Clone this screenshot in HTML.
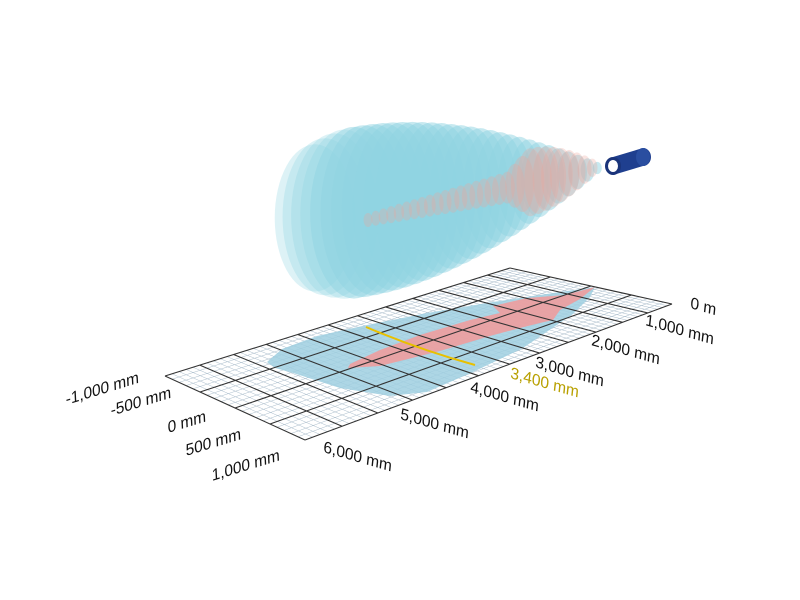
<!DOCTYPE html>
<html><head><meta charset="utf-8"><style>
html,body{margin:0;padding:0;background:#fff;}
svg{display:block}
text{font-family:"Liberation Sans",sans-serif;font-size:16px;fill:#111;}
</style></head><body>
<svg id="s" width="800" height="600" viewBox="0 0 800 600" xmlns="http://www.w3.org/2000/svg">
<g id="floor"></g>
<g id="beam"></g>
<g id="labels">
<text transform="translate(66,405) rotate(-17) skewX(-14)">-1,000 mm</text>
<text transform="translate(111,416) rotate(-17) skewX(-14)">-500 mm</text>
<text transform="translate(168,433) rotate(-17) skewX(-14)">0 mm</text>
<text transform="translate(186,456) rotate(-17) skewX(-14)">500 mm</text>
<text transform="translate(212,481) rotate(-17) skewX(-14)">1,000 mm</text>

<text transform="translate(690,308) rotate(16) skewX(10)">0 m</text>
<text transform="translate(645,325) rotate(16) skewX(10)">1,000 mm</text>
<text transform="translate(591,345) rotate(16) skewX(10)">2,000 mm</text>
<text transform="translate(535,367) rotate(16) skewX(10)">3,000 mm</text>
<text transform="translate(510,378) rotate(16) skewX(10)" style="fill:#b8a000">3,400 mm</text>
<text transform="translate(470,392) rotate(16) skewX(10)">4,000 mm</text>
<text transform="translate(400,419) rotate(16) skewX(10)">5,000 mm</text>
<text transform="translate(323,452) rotate(16) skewX(10)">6,000 mm</text>
</g>
</svg>
<script>
var NS="http://www.w3.org/2000/svg";
function el(p,t,a){var e=document.createElementNS(NS,t);for(var k in a)e.setAttribute(k,a[k]);p.appendChild(e);return e;}
var P00=[510,268],P01=[672,304],P60=[165,376],P61=[305,440];
function warp(d){var a=1,b=0.6/6;var v=a*d+b*d*d/2, V=a*6+b*36/2;return v/V;}
function P(d,l){var t=warp(d);
 var a=[P00[0]+(P60[0]-P00[0])*t,P00[1]+(P60[1]-P00[1])*t];
 var b=[P01[0]+(P61[0]-P01[0])*t,P01[1]+(P61[1]-P01[1])*t];
 return [a[0]+(b[0]-a[0])*l,a[1]+(b[1]-a[1])*l];}
var f=document.getElementById('floor');
function pts(a){return a.map(function(p){return p[0]+','+p[1]}).join(' ');}
el(f,'polygon',{points:pts([P00,P01,P61,P60]),fill:'#fff'});
var i,p,q;
for(i=0;i<=60;i++){p=P(i/10,0);q=P(i/10,1);el(f,'line',{x1:p[0],y1:p[1],x2:q[0],y2:q[1],stroke:'#a9bccb','stroke-width':0.5});}
for(i=0;i<=20;i++){p=P(0,i/20);q=P(6,i/20);el(f,'line',{x1:p[0],y1:p[1],x2:q[0],y2:q[1],stroke:'#a9bccb','stroke-width':0.5});}
el(f,'polygon',{points:pts([[595,287],[560,292],[493,302],[427,313],[367,325],[317,336],[282,349],[267,362],[275,368],[290,372],[340,388],[390,396],[427,392],[473,372],[523,348],[573,314],[590,297]]),fill:'#9fcfe0','fill-opacity':0.85});
el(f,'polygon',{points:pts([[595,287],[565,295],[527,298],[493,306],[500,313],[470,320],[420,335],[380,350],[350,364],[348,368],[380,366],[440,351],[490,336],[520,328],[540,323],[553,320],[560,310],[580,299]]),fill:'#f29a9a','fill-opacity':0.85});
for(i=0;i<=12;i++){p=P(i/2,0);q=P(i/2,1);el(f,'line',{x1:p[0],y1:p[1],x2:q[0],y2:q[1],stroke:'#333','stroke-width':1.1});}
for(i=0;i<=4;i++){p=P(0,i/4);q=P(6,i/4);el(f,'line',{x1:p[0],y1:p[1],x2:q[0],y2:q[1],stroke:'#333','stroke-width':1.1});}
el(f,'path',{d:'M366,327 Q420,350 475,365',fill:'none',stroke:'#e8c000','stroke-width':2});
var b=document.getElementById('beam');
var tip=[607,166],far=[315,212];
var N=30;
for(i=N;i>=1;i--){var t=i/N;
 var cx=tip[0]+(far[0]-tip[0])*t, cy=tip[1]+(far[1]-tip[1])*t;
 var r=86*Math.pow(Math.sin(Math.PI/2*Math.min(1,t/0.85)),0.95);
 if(t>0.85) r*=1-1.2*(t-0.85)*(t-0.85)/0.0225*0.12;
 cy+=0.08*r;
 var rx=r*(0.42+0.25*Math.max(0,t-0.6))+2;
 el(b,'ellipse',{cx:cx,cy:cy,rx:rx,ry:r,fill:'#8fd4e2','fill-opacity':(t>0.88?0.3:0.5)});
}
var rt=[600,166],rf=[368,220];
for(i=1;i<=30;i++){var t=i/30;
 var cx=rt[0]+(rf[0]-rt[0])*t, cy=rt[1]+(rf[1]-rt[1])*t;
 var r;
 if(t<0.3) r=4+30*Math.sin(Math.PI/2*t/0.3);
 else if(t<0.4) r=34-18*(t-0.3)/0.1;
 else r=16-9*(t-0.4)/0.6;
 el(b,'ellipse',{cx:cx,cy:cy,rx:r*0.35+2,ry:r,fill:'#eaa59c','fill-opacity':0.3});
}
el(b,'path',{d:'M613,157 L643,148 A8,9 0 0 1 643,166 L613,175 Z',fill:'#1f3f8f'});
el(b,'ellipse',{cx:643,cy:157,rx:7,ry:9,fill:'#2a4ea0'});
el(b,'ellipse',{cx:613,cy:166,rx:8,ry:9,fill:'#1a347a'});
el(b,'ellipse',{cx:613,cy:166,rx:5,ry:6,fill:'#fff'});
</script>
</body></html>
